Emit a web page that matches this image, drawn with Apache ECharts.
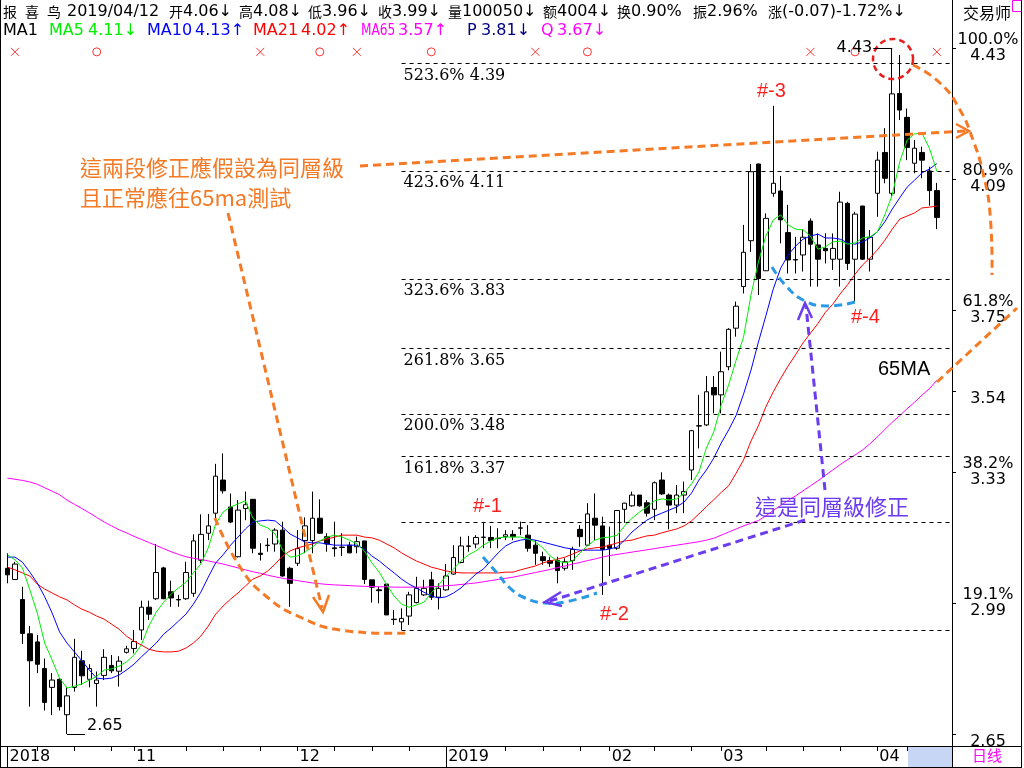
<!DOCTYPE html>
<html><head><meta charset="utf-8">
<script src="https://cdn.jsdelivr.net/npm/echarts@6/dist/echarts.min.js"></script>
<style>html,body{margin:0;padding:0;background:#fff;}#c{width:1024px;height:768px;}</style>
</head><body><div id="c"></div>
<script>
// ---------------- data ----------------
const dates = [
'2018-10-09','2018-10-10','2018-10-11','2018-10-12','2018-10-15','2018-10-16','2018-10-17','2018-10-18','2018-10-19','2018-10-22',
'2018-10-23','2018-10-24','2018-10-25','2018-10-26','2018-10-29','2018-10-30','2018-10-31',
'2018-11-01','2018-11-02','2018-11-05','2018-11-06','2018-11-07','2018-11-08','2018-11-09','2018-11-12','2018-11-13','2018-11-14',
'2018-11-15','2018-11-16','2018-11-19','2018-11-20','2018-11-21','2018-11-22','2018-11-23','2018-11-26','2018-11-27','2018-11-28',
'2018-11-29','2018-11-30',
'2018-12-03','2018-12-04','2018-12-05','2018-12-06','2018-12-07','2018-12-10','2018-12-11','2018-12-12','2018-12-13','2018-12-14',
'2018-12-17','2018-12-18','2018-12-19','2018-12-20','2018-12-21','2018-12-24','2018-12-25','2018-12-26','2018-12-27','2018-12-28',
'2019-01-02','2019-01-03','2019-01-04','2019-01-07','2019-01-08','2019-01-09','2019-01-10','2019-01-11','2019-01-14','2019-01-15',
'2019-01-16','2019-01-17','2019-01-18','2019-01-21','2019-01-22','2019-01-23','2019-01-24','2019-01-25','2019-01-28','2019-01-29',
'2019-01-30','2019-01-31',
'2019-02-01','2019-02-11','2019-02-12','2019-02-13','2019-02-14','2019-02-15','2019-02-18','2019-02-19','2019-02-20','2019-02-21',
'2019-02-22','2019-02-25','2019-02-26','2019-02-27','2019-02-28',
'2019-03-01','2019-03-04','2019-03-05','2019-03-06','2019-03-07','2019-03-08','2019-03-11','2019-03-12','2019-03-13','2019-03-14',
'2019-03-15','2019-03-18','2019-03-19','2019-03-20','2019-03-21','2019-03-22','2019-03-25','2019-03-26','2019-03-27','2019-03-28',
'2019-03-29',
'2019-04-01','2019-04-02','2019-04-03','2019-04-04','2019-04-08','2019-04-09','2019-04-10','2019-04-11','2019-04-12',
'2019-04-15'];

const opens = [3.080,3.051,2.999,2.910,2.889,2.820,2.771,2.792,2.700,2.771,
2.840,2.792,2.781,2.802,2.828,2.813,2.862,2.872,2.920,2.979,
3.001,3.081,3.019,2.999,3.001,3.015,3.101,3.171,3.223,3.309,
3.239,3.110,3.235,3.259,3.119,3.140,3.143,3.179,3.080,3.093,
3.152,3.152,3.210,3.162,3.133,3.134,3.140,3.136,3.151,3.050,
3.024,3.039,2.948,2.941,2.956,2.991,3.011,3.050,3.005,3.024,
3.065,3.095,3.137,3.143,3.160,3.160,3.158,3.162,3.168,3.184,
3.166,3.140,3.110,3.100,3.100,3.080,3.100,3.181,3.140,3.210,
3.190,3.140,3.132,3.233,3.242,3.270,3.250,3.233,3.309,3.270,
3.244,3.270,3.335,3.449,3.452,3.549,3.530,3.603,3.703,3.811,
3.930,4.129,3.852,4.053,4.059,3.951,3.881,3.893,3.981,3.919,
3.910,3.882,3.882,4.027,3.882,4.020,3.882,4.053,4.159,4.053,
4.312,4.250,4.131,4.159,4.111,4.06];
const closes = [3.063,3.091,2.911,2.840,2.831,2.732,2.790,2.721,2.749,2.849,
2.801,2.820,2.790,2.849,2.814,2.839,2.871,2.890,2.979,2.961,
3.069,3.001,3.003,2.998,3.069,3.151,3.168,3.190,3.319,3.281,
3.200,3.231,3.245,3.132,3.116,3.139,3.179,3.060,3.041,3.131,
3.190,3.210,3.171,3.143,3.131,3.135,3.120,3.149,3.051,3.031,
3.022,2.959,2.947,2.950,3.011,3.028,3.028,3.005,3.028,3.060,
3.108,3.138,3.138,3.160,3.161,3.152,3.157,3.167,3.162,3.185,
3.132,3.119,3.100,3.093,3.074,3.097,3.129,3.162,3.221,3.192,
3.129,3.132,3.230,3.249,3.270,3.242,3.223,3.302,3.273,3.244,
3.270,3.279,3.437,3.450,3.538,3.530,3.590,3.700,3.760,3.900,
4.109,3.832,3.988,4.079,3.984,3.880,3.880,3.939,3.921,3.882,
3.904,3.910,4.030,3.871,3.999,3.882,3.939,4.139,4.092,4.311,
4.269,4.172,4.170,4.139,4.060,3.99];
const lows = [3.041,3.050,2.884,2.721,2.808,2.711,2.699,2.711,2.650,2.760,
2.777,2.771,2.721,2.790,2.808,2.773,2.859,2.859,2.894,2.946,
2.998,3.000,2.980,2.980,2.998,3.006,3.093,3.153,3.210,3.274,
3.197,3.108,3.205,3.119,3.100,3.123,3.123,3.058,2.980,3.086,
3.119,3.119,3.169,3.123,3.110,3.112,3.119,3.119,3.039,2.991,
2.989,2.959,2.933,2.920,2.933,2.989,3.008,2.998,2.973,3.022,
3.063,3.093,3.123,3.132,3.132,3.132,3.132,3.153,3.153,3.166,
3.123,3.089,3.089,3.084,3.041,3.074,3.076,3.136,3.138,3.153,
3.011,3.060,3.128,3.198,3.240,3.240,3.214,3.205,3.270,3.181,
3.223,3.223,3.309,3.391,3.449,3.482,3.482,3.594,3.681,3.793,
3.901,3.789,3.852,4.044,3.923,3.845,3.845,3.850,3.811,3.811,
3.871,3.854,3.811,3.854,3.772,3.880,3.850,3.992,4.079,4.044,
4.243,4.139,4.105,4.092,4.021,3.96];
const highs = [3.119,3.097,3.032,2.930,2.907,2.846,2.808,2.795,2.773,2.897,
2.866,2.831,2.812,2.870,2.855,2.852,2.879,2.920,2.996,2.996,
3.143,3.084,3.048,3.011,3.097,3.168,3.220,3.221,3.351,3.378,
3.274,3.257,3.279,3.259,3.145,3.158,3.184,3.201,3.084,3.179,
3.212,3.279,3.259,3.171,3.201,3.171,3.149,3.162,3.151,3.050,
3.032,3.039,2.972,2.976,3.019,3.058,3.050,3.071,3.041,3.091,
3.140,3.162,3.164,3.166,3.199,3.190,3.184,3.179,3.179,3.201,
3.192,3.153,3.123,3.110,3.110,3.106,3.136,3.192,3.249,3.274,
3.214,3.188,3.230,3.250,3.279,3.270,3.257,3.305,3.329,3.274,
3.296,3.305,3.439,3.530,3.579,3.579,3.642,3.703,3.772,3.971,
4.129,4.130,4.001,4.280,4.098,4.023,3.940,3.960,3.988,3.949,
3.949,3.949,4.057,4.031,4.005,4.020,3.958,4.161,4.222,4.43,
4.412,4.273,4.191,4.174,4.122,4.08];

const ma5 = [3.115,3.102,3.081,3.024,2.964,2.886,2.842,2.795,2.769,2.774,
2.780,2.790,2.800,2.816,2.819,2.826,2.837,2.855,2.881,2.930,
2.966,2.992,3.013,3.029,3.044,3.068,3.091,3.133,3.195,3.226,
3.239,3.247,3.255,3.210,3.192,3.185,3.169,3.127,3.109,3.112,
3.122,3.135,3.151,3.161,3.166,3.161,3.153,3.143,3.125,3.094,
3.070,3.037,3.008,2.987,2.979,2.985,2.992,3.016,3.037,3.060,
3.078,3.099,3.115,3.125,3.140,3.151,3.159,3.161,3.161,3.161,
3.156,3.148,3.133,3.112,3.099,3.094,3.099,3.120,3.138,3.153,
3.159,3.161,3.166,3.190,3.210,3.226,3.239,3.255,3.260,3.257,
3.260,3.275,3.299,3.330,3.392,3.434,3.504,3.556,3.620,3.680,
3.789,3.875,3.942,3.984,3.997,3.971,3.960,3.958,3.942,3.908,
3.914,3.927,3.929,3.921,3.924,3.937,3.940,3.953,3.997,4.049,
4.134,4.191,4.207,4.209,4.170,4.110];
const ma10 = [3.109,3.109,3.096,3.070,3.042,3.006,2.964,2.915,2.886,2.863,
2.840,2.816,2.795,2.793,2.795,2.803,2.816,2.831,2.850,2.868,
2.886,2.909,2.925,2.943,2.961,2.987,3.018,3.057,3.094,3.115,
3.140,3.161,3.182,3.200,3.203,3.205,3.203,3.187,3.169,3.159,
3.148,3.146,3.146,3.143,3.140,3.140,3.140,3.140,3.130,3.112,
3.099,3.083,3.068,3.052,3.039,3.029,3.018,3.008,3.003,3.006,
3.016,3.029,3.047,3.065,3.078,3.099,3.120,3.138,3.148,3.153,
3.156,3.153,3.148,3.143,3.138,3.133,3.130,3.127,3.127,3.127,
3.127,3.130,3.135,3.153,3.174,3.190,3.205,3.215,3.223,3.231,
3.239,3.252,3.275,3.309,3.335,3.366,3.405,3.439,3.477,3.532,
3.594,3.667,3.735,3.805,3.859,3.893,3.916,3.934,3.942,3.947,
3.937,3.937,3.934,3.924,3.921,3.927,3.937,3.953,3.979,4.012,
4.041,4.069,4.087,4.106,4.116,4.130];
const ma21 = [3.083,3.076,3.068,3.060,3.039,3.026,3.016,3.006,2.998,2.985,
2.974,2.966,2.956,2.948,2.935,2.922,2.904,2.891,2.881,2.870,
2.865,2.863,2.863,2.865,2.873,2.886,2.904,2.930,2.961,2.982,
3.000,3.016,3.034,3.052,3.060,3.073,3.091,3.112,3.125,3.133,
3.138,3.143,3.151,3.156,3.161,3.166,3.166,3.166,3.161,3.159,
3.153,3.143,3.133,3.120,3.109,3.099,3.091,3.083,3.078,3.073,
3.070,3.068,3.068,3.068,3.068,3.068,3.068,3.070,3.070,3.076,
3.081,3.086,3.094,3.099,3.104,3.109,3.117,3.125,3.130,3.133,
3.135,3.140,3.146,3.151,3.153,3.159,3.164,3.166,3.172,3.177,
3.182,3.190,3.203,3.221,3.240,3.258,3.277,3.294,3.327,3.361,
3.410,3.450,3.499,3.538,3.573,3.605,3.634,3.665,3.690,3.715,
3.744,3.765,3.792,3.816,3.843,3.867,3.885,3.906,3.931,3.960,
3.986,3.994,4.002,4.015,4.017,4.020];
const ma65 = [3.314,3.311,3.308,3.304,3.298,3.289,3.280,3.271,3.257,3.246,
3.235,3.224,3.212,3.200,3.190,3.180,3.172,3.163,3.155,3.147,
3.139,3.131,3.123,3.116,3.110,3.106,3.103,3.099,3.095,3.091,
3.086,3.081,3.076,3.071,3.067,3.062,3.058,3.054,3.051,3.048,
3.045,3.042,3.040,3.038,3.037,3.036,3.035,3.034,3.033,3.033,
3.032,3.032,3.031,3.031,3.031,3.031,3.031,3.032,3.033,3.035,
3.036,3.038,3.040,3.042,3.045,3.048,3.051,3.054,3.057,3.061,
3.065,3.069,3.073,3.077,3.082,3.086,3.091,3.095,3.100,3.104,
3.109,3.113,3.116,3.119,3.122,3.125,3.128,3.131,3.134,3.137,
3.140,3.143,3.146,3.149,3.153,3.158,3.166,3.174,3.182,3.190,
3.197,3.204,3.216,3.230,3.243,3.256,3.268,3.281,3.294,3.307,
3.321,3.335,3.349,3.362,3.374,3.387,3.403,3.421,3.440,3.459,
3.476,3.494,3.511,3.529,3.546,3.568];

const fibLevels = [4.39, 4.11, 3.83, 3.65, 3.48, 3.37, 3.20, 2.92];
const fibNames  = ['523.6%','423.6%','323.6%','261.8%','200.0%','161.8%','',''];
const fibAnchor = '2018-12-21';
const rightTicks = [4.43, 4.09, 3.75, 3.54, 3.33, 2.99, 2.65];
const rightPct   = ['100.0%','80.9%','61.8%','','38.2%','19.1%',''];
const monthLabels = {'2018-10-09':'2018','2018-11-01':'11','2018-12-03':'12','2019-01-02':'2019',
                     '2019-02-01':'02','2019-03-01':'03','2019-04-01':'04'};
const yearStarts = ['2018-10-09','2019-01-02'];
const weekTicks = ['2018-10-15','2018-10-22','2018-10-29','2018-11-01','2018-11-12','2018-11-19','2018-11-26',
  '2018-12-03','2018-12-10','2018-12-17','2018-12-24','2019-01-02','2019-01-14','2019-01-21','2019-01-28',
  '2019-02-01','2019-02-18','2019-02-25','2019-03-01','2019-03-11','2019-03-18','2019-03-25','2019-04-01',
  '2019-04-08','2019-04-15'];
const crossSignals  = ['2018-10-10','2018-11-26','2018-12-13','2019-01-18','2019-03-19','2019-04-12'];
const circleSignals = ['2018-10-25','2018-12-06','2018-12-27','2019-01-29','2019-03-27'];

// ---------------- chart ----------------
const FONT = '"DejaVu Sans","Noto Sans CJK SC",sans-serif';
const CJK_TC = '"Noto Sans CJK TC","Noto Sans CJK SC",sans-serif';
const chart = echarts.init(document.getElementById('c'));
const candleData = opens.map((o, i) => [o, closes[i], lows[i], highs[i]]);
const weekSet = new Set(weekTicks);
const yearSet = new Set(yearStarts);
const signalLevel = 4.42;

const lineSeries = (name, arr, color) => ({
  name, type: 'line', data: arr, showSymbol: false, symbol: 'none', silent: true,
  lineStyle: {color, width: 1}, animation: false, z: 3
});

chart.setOption({
  animation: false,
  grid: {left: 3.8, right: 76, top: 40, bottom: 22, containLabel: false},
  xAxis: [{
    type: 'category', data: dates, boundaryGap: true,
    axisLine: {show: true, lineStyle: {color: '#000', width: 1}},
    axisTick: {show: true, alignWithLabel: true, length: 5, lineStyle: {color: '#000'},
      interval: (i, v) => weekSet.has(v)},
    axisLabel: {show: true, interval: (i, v) => monthLabels[v] !== undefined,
      formatter: v => monthLabels[v] || '', align: 'left', margin: 3,
      color: '#000', fontFamily: FONT, fontSize: 16, padding: [0, 0, 0, 2]},
    splitLine: {show: false}
  }, {
    type: 'category', data: dates, boundaryGap: true, position: 'bottom',
    axisLine: {show: false},
    axisTick: {show: true, alignWithLabel: true, length: 21, lineStyle: {color: '#000'},
      interval: (i, v) => yearSet.has(v)},
    axisLabel: {show: false}, splitLine: {show: false}
  }],
  yAxis: {
    type: 'value', position: 'right', offset: 4,
    min: 4.43 - 698 / 385.4, max: 4.43 + 8 / 385.4,
    axisLine: {show: true, lineStyle: {color: '#000'}},
    axisTick: {show: true, customValues: rightTicks, length: 4, lineStyle: {color: '#000'}},
    axisLabel: {
      show: true, customValues: rightTicks, margin: 36, align: 'center',
      color: '#000', fontFamily: FONT, fontSize: 16, lineHeight: 16,
      formatter: v => {
        let k = 0, best = 9;
        rightTicks.forEach((t, j) => { if (Math.abs(t - v) < best) { best = Math.abs(t - v); k = j; } });
        return (rightPct[k] || ' ') + '\n' + rightTicks[k].toFixed(2);
      }
    },
    splitLine: {show: false}
  },
  series: [{
    name: 'K', type: 'candlestick', data: candleData, barWidth: 5, clip: false, silent: true,
    itemStyle: {color: '#ffffff', color0: '#000000', borderColor: '#000000', borderColor0: '#000000', borderWidth: 1},
    markLine: {
      silent: true, symbol: ['none', 'none'], animation: false,
      lineStyle: {color: '#000', width: 1, type: [4, 4]},
      label: {show: true, position: 'insideStartBottom', formatter: '{b}', color: '#000',
        fontFamily: '"DejaVu Serif",serif', fontSize: 16, distance: [2, 4]},
      emphasis: {disabled: true},
      data: fibLevels.map((v, k) => [
        {xAxis: fibAnchor, yAxis: v, name: fibNames[k] ? fibNames[k] + ' ' + v.toFixed(2) : ''},
        {x: 952, yAxis: v}
      ])
    }
  },
  lineSeries('MA65', ma65, '#ff00ff'),
  lineSeries('MA21', ma21, '#ff0000'),
  lineSeries('MA10', ma10, '#0000ff'),
  lineSeries('MA5', ma5, '#00ee00'),
  {
    type: 'scatter', silent: true, data: crossSignals.map(d => [d, signalLevel]),
    symbol: 'path://M0,0L10,10M10,0L0,10', symbolSize: 8,
    itemStyle: {color: 'rgba(0,0,0,0)', borderColor: '#ff0000', borderWidth: 1}, z: 4
  }, {
    type: 'scatter', silent: true, data: circleSignals.map(d => [d, signalLevel]),
    symbol: 'circle', symbolSize: 8,
    itemStyle: {color: 'rgba(0,0,0,0)', borderColor: '#ff0000', borderWidth: 1}, z: 4
  }]
});

// ---------------- annotations ----------------
const ORANGE = '#f57a26', BLUE = '#2a9ae6', PURPLE = '#6b3cf0', RED = '#ff1e1e';
const dash = (stroke, w) => ({stroke, lineWidth: w || 3, lineDash: [8, 5], fill: null});
const solid = (stroke, w) => ({stroke, lineWidth: w || 2.5, fill: null});
const G = [];
const txt = (x, y, text, fill, size, family, extra, elExtra) => G.push(Object.assign({
  type: 'text', x, y, z: 100, silent: true,
  style: Object.assign({text, fill, fontSize: size, fontFamily: family || FONT, verticalAlign: 'middle', align: 'left'}, extra || {})
}, elExtra || {}));
const poly = (pts, style, smooth) => G.push({type: 'polyline', z: 99, silent: true, shape: {points: pts, smooth: smooth || 0}, style});

// frame
poly([[0.5, 0], [0.5, 768]], solid('#000', 1));
poly([[952.5, 0], [952.5, 768]], solid('#000', 1));
poly([[1021.5, 0], [1021.5, 768]], solid('#000', 1));
poly([[0, 746.5], [1022, 746.5]], solid('#000', 1));
poly([[0, 767.5], [1022, 767.5]], solid('#000', 1));
G.push({type: 'rect', z: 98, silent: true, shape: {x: 908, y: 747, width: 44, height: 20}, style: {fill: '#c6d6f4'}});
G.push({type: 'rect', z: 98, silent: true, shape: {x: 1012.5, y: 0.5, width: 9, height: 11}, style: {fill: null, stroke: '#ff00ff', lineWidth: 1}});
txt(963, 15, '交易师', '#000', 16, FONT);
txt(972, 757, '日线', '#ff00ff', 15, FONT);

// header row 1
const last = opens.length - 1, prev = closes[last - 1];
const chg = closes[last] - prev;
const row1 = [
  [3, '报', ''], [25, '喜', ''], [47, '鸟', ''], [67, '', '2019/04/12'],
  [169, '开', opens[last].toFixed(2) + '↓'], [239, '高', highs[last].toFixed(2) + '↓'],
  [308, '低', lows[last].toFixed(2) + '↓'], [378, '收', closes[last].toFixed(2) + '↓'],
  [448, '量', '100050↓'], [543, '额', '4004↓'], [617, '换', '0.90%'],
  [693, '振', ((highs[last] - lows[last]) / prev * 100).toFixed(2) + '%'],
  [768, '涨', '(' + chg.toFixed(2) + ')' + (chg / prev * 100).toFixed(2) + '%↓']
];
row1.forEach(([x, c, t]) => G.push({type: 'text', x, y: 12, z: 100, silent: true, style: {
  text: (c ? '{c|' + c + '}' : '') + (t ? '{n|' + t + '}' : ''), verticalAlign: 'middle', align: 'left',
  rich: {c: {fontSize: 14, fontFamily: '"Noto Sans CJK SC"', fill: '#000'}, n: {fontSize: 16, fontFamily: FONT, fill: '#000'}}
}}));
// header row 2
const row2 = [
  [3, 'MA1', '#000'], [49, 'MA5', '#00ee00'], [88, ma5[last].toFixed(2) + '↓', '#00ee00'],
  [147, 'MA10', '#0000ff'], [195, ma10[last].toFixed(2) + '↑', '#0000ff'],
  [253, 'MA21', '#ff0000'], [301, ma21[last].toFixed(2) + '↑', '#ff0000'],
  [398, ma65[last].toFixed(2) + '↑', '#ff00ff'],
  [467, 'P', '#000080'], [481, '3.81↓', '#000080'],
  [541, 'Q', '#ff00ff'], [557, '3.67↓', '#ff00ff']
];
row2.forEach(([x, t, c]) => txt(x, 31, t, c, 16, FONT));
txt(0, 0, 'MA65', '#ff00ff', 16, FONT, null, {x: 361, y: 31, scaleX: 0.76});

// hand-drawn annotations
txt(80, 168, '這兩段修正應假設為同層級', ORANGE, 22, CJK_TC);
txt(80, 198, '且正常應往65ma測試', ORANGE, 22, CJK_TC);
poly([[360, 166], [966, 131]], dash(ORANGE));
poly([[956, 124], [969, 131], [956, 138]], solid(ORANGE));
poly([[228, 213], [322, 608]], dash(ORANGE));
poly([[313, 597], [323, 612], [329, 595]], solid(ORANGE));
poly([[215, 518], [240, 567], [267, 597], [300, 617], [340, 630], [407, 633]], dash(ORANGE), 0.5);
poly([[913, 65], [940, 83], [960, 110], [973, 140], [983, 173], [990, 213], [992, 275]], dash(ORANGE), 0.5);
poly([[937, 382], [1017, 308]], dash(ORANGE));
G.push({type: 'circle', z: 99, silent: true, shape: {cx: 893, cy: 59, r: 20}, style: {stroke: '#e81e1e', lineWidth: 2.5, lineDash: [6, 4], fill: null}});
poly([[483, 557], [497, 573], [510, 588], [525, 598], [545, 603], [565, 602], [597, 593]], dash(BLUE), 0.5);
poly([[772, 267], [787, 287], [805, 301], [827, 306], [855, 302]], dash(BLUE), 0.5);
poly([[805, 520], [547, 602]], dash(PURPLE));
poly([[561, 592], [545, 602], [562, 606]], solid(PURPLE));
poly([[825, 490], [806, 306]], dash(PURPLE));
poly([[798, 320], [805, 303], [812, 318]], solid(PURPLE));
txt(755, 507, '這是同層級修正', PURPLE, 22, CJK_TC);
txt(473, 506, '#-1', RED, 20, '"Liberation Sans",sans-serif');
txt(600, 614, '#-2', RED, 20, '"Liberation Sans",sans-serif');
txt(757, 91, '#-3', RED, 20, '"Liberation Sans",sans-serif');
txt(851, 317, '#-4', RED, 20, '"Liberation Sans",sans-serif');
txt(878, 369, '65MA', '#000', 20, '"Liberation Sans",sans-serif');

// data-anchored high / low brackets
const hiIdx = highs.indexOf(Math.max(...highs));
const loIdx = lows.indexOf(Math.min(...lows));
const ph = chart.convertToPixel({xAxisIndex: 0, yAxisIndex: 0}, [hiIdx, highs[hiIdx]]);
const pl = chart.convertToPixel({xAxisIndex: 0, yAxisIndex: 0}, [loIdx, lows[loIdx]]);
poly([[ph[0] - 19, Math.round(ph[1]) + 0.5], [ph[0], Math.round(ph[1]) + 0.5]], solid('#000', 1));
txt(ph[0] - 20, ph[1], highs[hiIdx].toFixed(2), '#000', 16, FONT, {align: 'right'});
poly([[pl[0], Math.round(pl[1]) + 0.5], [pl[0] + 18, Math.round(pl[1]) + 0.5]], solid('#000', 1));
txt(pl[0] + 20, pl[1] - 8, lows[loIdx].toFixed(2), '#000', 16, FONT);

chart.setOption({graphic: G});
</script></body></html>
